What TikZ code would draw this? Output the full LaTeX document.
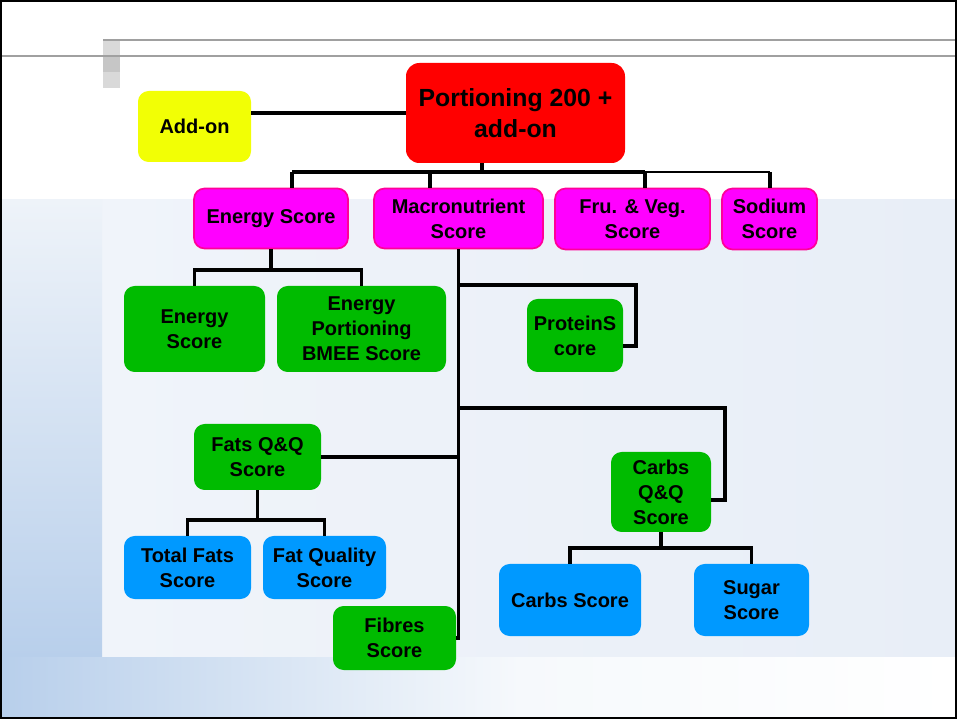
\documentclass[tikz,border=0pt]{standalone}
\usepackage{fontspec}
\setmainfont{Liberation Sans}
\definecolor{cyel}{HTML}{F2FF05}
\definecolor{cred}{HTML}{FF0000}
\definecolor{cpink}{HTML}{FF00FF}
\definecolor{cpinkb}{HTML}{FF0099}
\definecolor{cgreen}{HTML}{00BB00}
\definecolor{cblue}{HTML}{0099FF}
\definecolor{cgrayl}{HTML}{A0A0A0}
\definecolor{bgpanelL}{HTML}{F0F4FA}
\definecolor{bgpanelR}{HTML}{E8EEF7}
\definecolor{bgtop}{HTML}{EEF3F9}
\definecolor{bgmid}{HTML}{C4D8EF}
\definecolor{bgbot}{HTML}{B8CFEB}
\definecolor{bgfade}{HTML}{F6F9FC}
\begin{document}
\begin{tikzpicture}[x=0.75pt,y=-0.75pt,
  sz/.style 2 args={minimum width=#1*0.75pt, minimum height=#2*0.75pt},
  box/.style={rounded corners=8pt, inner sep=0pt, align=center,
    font=\bfseries\fontsize{15}{18.75}\selectfont},
  pinkbox/.style={box, fill=cpink, draw=cpinkb, line width=1.3pt},
  greenbox/.style={box, fill=cgreen},
  bluebox/.style={box, fill=cblue},
  link/.style={line width=2.7pt, black},
  thinlink/.style={line width=2.1pt, black}]
\useasboundingbox (0,0) rectangle (958,720);
% background
\fill[white] (0,0) rectangle (958,720);
\shade[left color=bgpanelL, right color=bgpanelR] (102,200) rectangle (956,657);
\shade[top color=bgtop, middle color=bgmid, bottom color=bgbot] (2,200) rectangle (102,657);
\shade[left color=bgbot, right color=bgfade] (2,657) rectangle (520,717);
\shade[left color=bgfade, right color=white] (520,657) rectangle (956,717);
% top lines and blocks
\fill[gray!30] (103,40) rectangle (120,56);
\fill[gray!45] (103,56) rectangle (120,72);
\fill[gray!30] (103,72) rectangle (120,88);
\draw[cgrayl, line width=0.9pt] (103,40) -- (956,40);
\draw[cgrayl, line width=0.9pt] (2,56) -- (956,56);
\draw[black, line width=1.6pt] (1,1) rectangle (956,718);
% nodes
\node[box, fill=cyel, sz={113}{71}] (addon) at (194.5,126.5) {Add-on};
\node[box, fill=cred, sz={219}{100}, rounded corners=10pt,
  font=\bfseries\fontsize{18.6}{23.25}\selectfont] (port) at (515.5,113) {Portioning 200 +\\add-on};
\node[pinkbox, sz={154}{60}] (energy) at (271,218.5) {Energy Score};
\node[pinkbox, sz={169}{60}] (macro) at (458.5,218.5) {Macronutrient\\Score};
\node[pinkbox, sz={155}{61}] (fru) at (632.5,219) {Fru. \& Veg.\\Score};
\node[pinkbox, sz={95}{61}] (sodium) at (769.5,219) {Sodium\\Score};
\node[greenbox, sz={141}{86}] (escore) at (194.5,329) {Energy\\Score};
\node[greenbox, sz={169}{86}] (bmee) at (361.5,329) {Energy\\Portioning\\BMEE Score};
\node[greenbox, sz={96}{73}] (protein) at (575,335.5) {ProteinS\\core};
\node[greenbox, sz={127}{66}] (fats) at (257.5,457) {Fats Q\&Q\\Score};
\node[greenbox, sz={100}{80}] (carbsqq) at (661,492) {Carbs\\Q\&Q\\Score};
\node[bluebox, sz={127}{63}] (totfat) at (187.5,567.5) {Total Fats\\Score};
\node[bluebox, sz={123}{63}] (fatq) at (324.5,567.5) {Fat Quality\\Score};
\node[bluebox, sz={142}{72}] (carbs) at (570,600) {Carbs Score};
\node[bluebox, sz={115}{72}] (sugar) at (751.5,600) {Sugar\\Score};
\node[greenbox, sz={123}{64}] (fibres) at (394.5,638) {Fibres\\Score};
% coordinates
\coordinate (b0) at (482,172);
\coordinate (d1) at (292,172);
\coordinate (d2) at (430,172);
\coordinate (d3) at (645,172);
\coordinate (d4) at (770,172);
\coordinate (ya) at (0,113);
\coordinate (eb) at (271,270);
\coordinate (p1) at (636,285);
\coordinate (p2) at (636,346);
\coordinate (c1) at (725,408);
\coordinate (c2) at (725,500);
\coordinate (fb) at (257.5,520);
\coordinate (cb) at (661,548);
% connectors
\draw[link] (addon.east |- ya) -- (port.west |- ya);
\draw[link] (port.south -| b0) -- (b0);
\draw[link] (d1) -- (b0) -- (d3);
\draw[thinlink] (d3) -- (d4);
\draw[link] (d1) -- (d1 |- energy.north);
\draw[link] (d2) -- (d2 |- macro.north);
\draw[link] (d3) -- (d3 |- fru.north);
\draw[link] (d4) -- (d4 |- sodium.north);
\draw[link] (energy.south) -- (eb);
\draw[link] (escore.north) |- (eb) -| (bmee.north);
\draw[link] (macro.south) -- (macro.south |- fibres.east) -- (fibres.east);
\draw[link] (macro.south |- p1) -- (p1) -- (p2) -- (p2 -| protein.east);
\draw[link] (macro.south |- c1) -- (c1) -- (c2) -- (c2 -| carbsqq.east);
\draw[link] (fats.east) -- (fats.east -| macro.south);
\draw[link] (fats.south) -- (fb);
\draw[link] (totfat.north) |- (fb) -| (fatq.north);
\draw[link] (carbsqq.south) -- (cb);
\draw[link] (carbs.north) |- (cb) -| (sugar.north);
\end{tikzpicture}
\end{document}
